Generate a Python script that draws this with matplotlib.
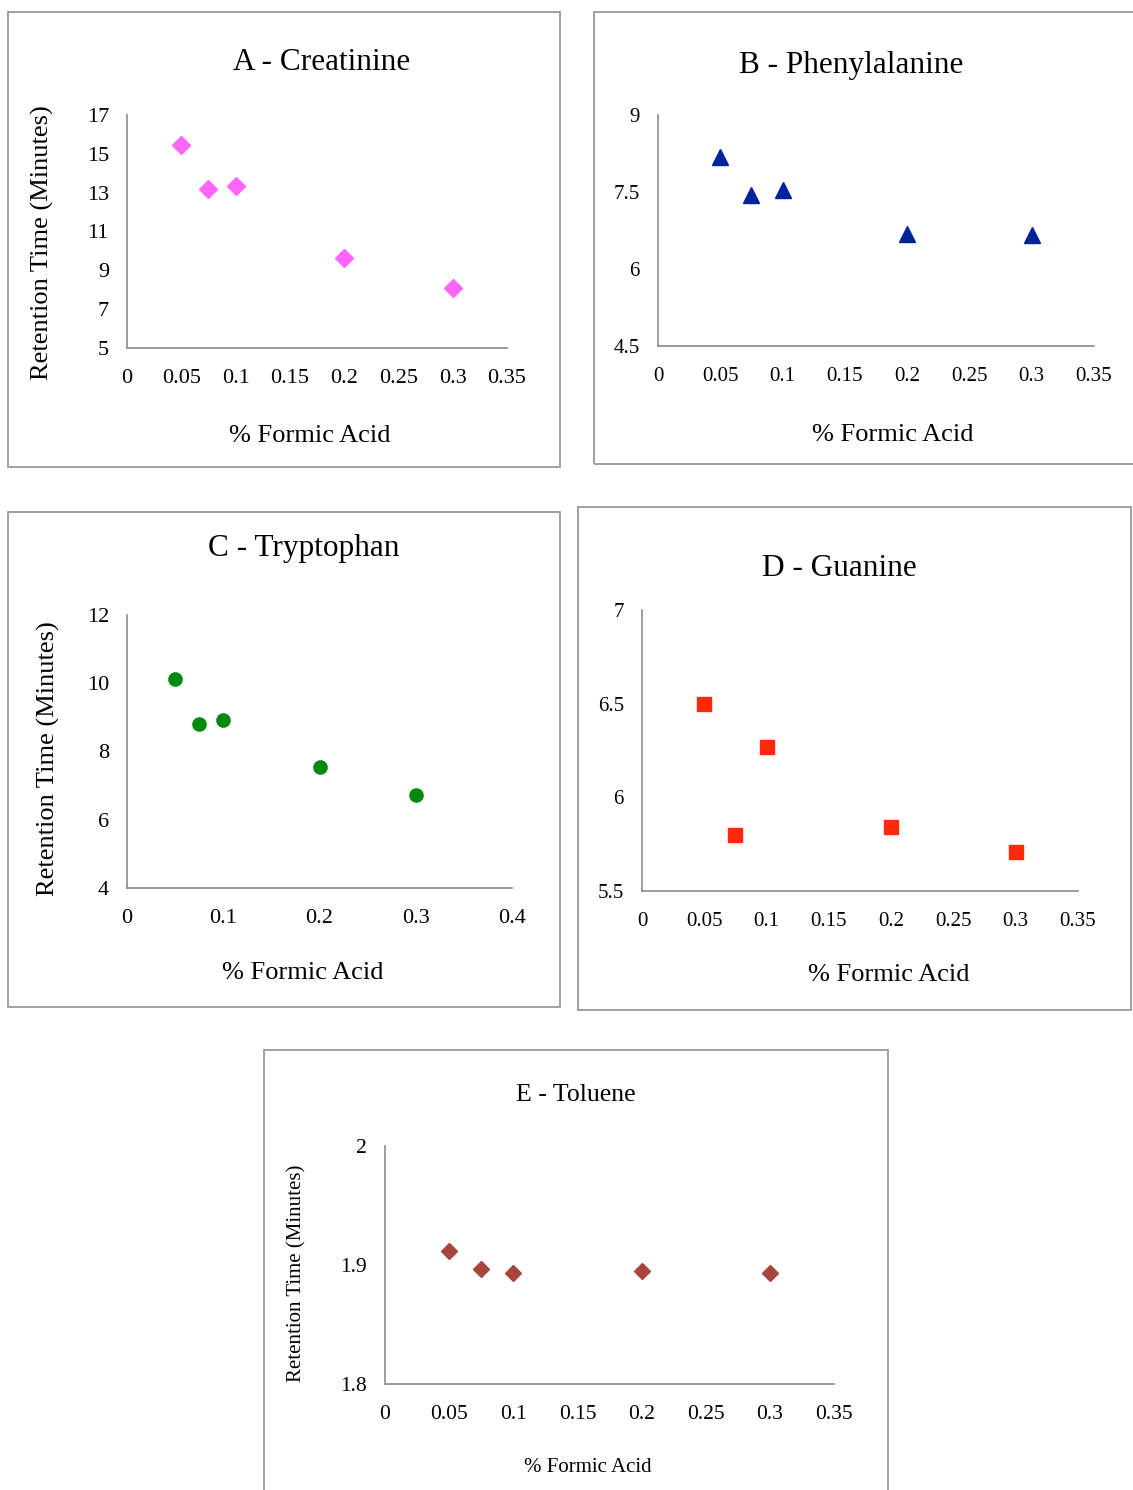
import matplotlib
matplotlib.use('Agg')
import numpy as np
import matplotlib.pyplot as plt
from matplotlib.patches import Rectangle
from matplotlib.ticker import FuncFormatter, FixedLocator

# ---------------- data ----------------
x_acid = [0.05, 0.075, 0.1, 0.2, 0.3]
creatinine = [15.45, 13.2, 13.35, 9.65, 8.1]
phenylalanine = [8.18, 7.44, 7.54, 6.68, 6.66]
tryptophan = [10.13, 8.81, 8.93, 7.55, 6.73]
guanine = [6.50, 5.80, 6.27, 5.84, 5.71]
toluene = [1.912, 1.897, 1.893, 1.895, 1.893]

titles = ["A - Creatinine", "B - Phenylalanine", "C - Tryptophan", "D - Guanine", "E - Toluene"]
xlabel = "% Formic Acid"
ylabel = "Retention Time (Minutes)"

# ---------------- layout ----------------
W, H = 1133, 1490
plt.rcParams['font.family'] = ['Liberation Serif', 'DejaVu Serif']
fig = plt.figure(figsize=(W / 100, H / 100), dpi=100)
fig.patch.set_facecolor('white')

def fx(x):
    return x / W

def fy(y):
    return 1 - y / H

panels = [
    dict(y=creatinine, title=titles[0], box=(8, 12, 560, 467), ax=(127, 115, 507, 348),
         xlim=(0, 0.35), xstep=0.05, ylim=(5, 17), ystep=2,
         marker='D', ms=8.8, color='#FF66FF',
         title_pos=(322, 62), tfs=22.5, xl_pos=(310, 436), yl_pos=(42, 243), lfs=19, tks=16, ylab=True),
    dict(y=phenylalanine, title=titles[1], box=(594, 12, 1140, 464), ax=(658, 115, 1094, 346),
         xlim=(0, 0.35), xstep=0.05, ylim=(4.5, 9), ystep=1.5,
         marker='^', ms=11, color='#00229A',
         title_pos=(851, 65), tfs=22.5, xl_pos=(893, 435), yl_pos=None, lfs=19, tks=15, ylab=False),
    dict(y=tryptophan, title=titles[2], box=(8, 512, 560, 1007), ax=(127, 615, 512, 888),
         xlim=(0, 0.4), xstep=0.1, ylim=(4, 12), ystep=2,
         marker='o', ms=9.5, color='#008A0E',
         title_pos=(304, 548), tfs=22.5, xl_pos=(303, 973), yl_pos=(48, 759), lfs=19, tks=16, ylab=True),
    dict(y=guanine, title=titles[3], box=(578, 507, 1131, 1010), ax=(642, 610, 1078, 891),
         xlim=(0, 0.35), xstep=0.05, ylim=(5.5, 7), ystep=0.5,
         marker='s', ms=9.5, color='#FF2A0A',
         title_pos=(839, 568), tfs=22.5, xl_pos=(889, 975), yl_pos=None, lfs=19, tks=15, ylab=False),
    dict(y=toluene, title=titles[4], box=(264, 1050, 888, 1500), ax=(385, 1146, 834, 1384),
         xlim=(0, 0.35), xstep=0.05, ylim=(1.8, 2.0), ystep=0.1,
         marker='D', ms=7.8, color='#A8453F',
         title_pos=(576, 1095), tfs=18.5, xl_pos=(588, 1468), yl_pos=(297, 1273), lfs=15, tks=15.5, ylab=True),
]

fmt = FuncFormatter(lambda v, p: ('%.2f' % v).rstrip('0').rstrip('.') if abs(v) > 1e-9 else '0')

for p in panels:
    bx0, by0, bx1, by1 = p['box']
    fig.add_artist(Rectangle((fx(bx0), fy(by1)), (bx1 - bx0) / W, (by1 - by0) / H,
                             transform=fig.transFigure, fill=False, ec='#A0A0A0', lw=1.4))
    x0, yt, x1, yb = p['ax']
    ax = fig.add_axes([fx(x0), fy(yb), (x1 - x0) / W, (yb - yt) / H])
    ax.set_facecolor('none')
    ax.plot(x_acid, p['y'], linestyle='none', marker=p['marker'], ms=p['ms'],
            color=p['color'], mec=p['color'], clip_on=False, zorder=3)
    ax.set_xlim(*p['xlim'])
    ax.set_ylim(*p['ylim'])
    xt = np.arange(p['xlim'][0], p['xlim'][1] + p['xstep'] / 2, p['xstep'])
    yt_ = np.arange(p['ylim'][0], p['ylim'][1] + p['ystep'] / 2, p['ystep'])
    ax.xaxis.set_major_locator(FixedLocator(xt))
    ax.yaxis.set_major_locator(FixedLocator(yt_))
    ax.xaxis.set_major_formatter(fmt)
    ax.yaxis.set_major_formatter(fmt)
    for s in ['top', 'right']:
        ax.spines[s].set_visible(False)
    for s in ['left', 'bottom']:
        ax.spines[s].set_color('#8C8C8C')
        ax.spines[s].set_linewidth(1.2)
    ax.tick_params(axis='both', length=0, labelsize=p['tks'], colors='black')
    ax.tick_params(axis='x', pad=15)
    ax.tick_params(axis='y', pad=13)
    fig.text(fx(p['title_pos'][0]), fy(p['title_pos'][1]), p['title'], fontsize=p['tfs'],
             ha='center', va='center')
    fig.text(fx(p['xl_pos'][0]), fy(p['xl_pos'][1]), xlabel, fontsize=p['lfs'],
             ha='center', va='center')
    if p['ylab']:
        fig.text(fx(p['yl_pos'][0]), fy(p['yl_pos'][1]), ylabel, fontsize=p['lfs'],
                 ha='center', va='center', rotation=90)

fig.savefig('out.png', dpi=100, facecolor='white')
